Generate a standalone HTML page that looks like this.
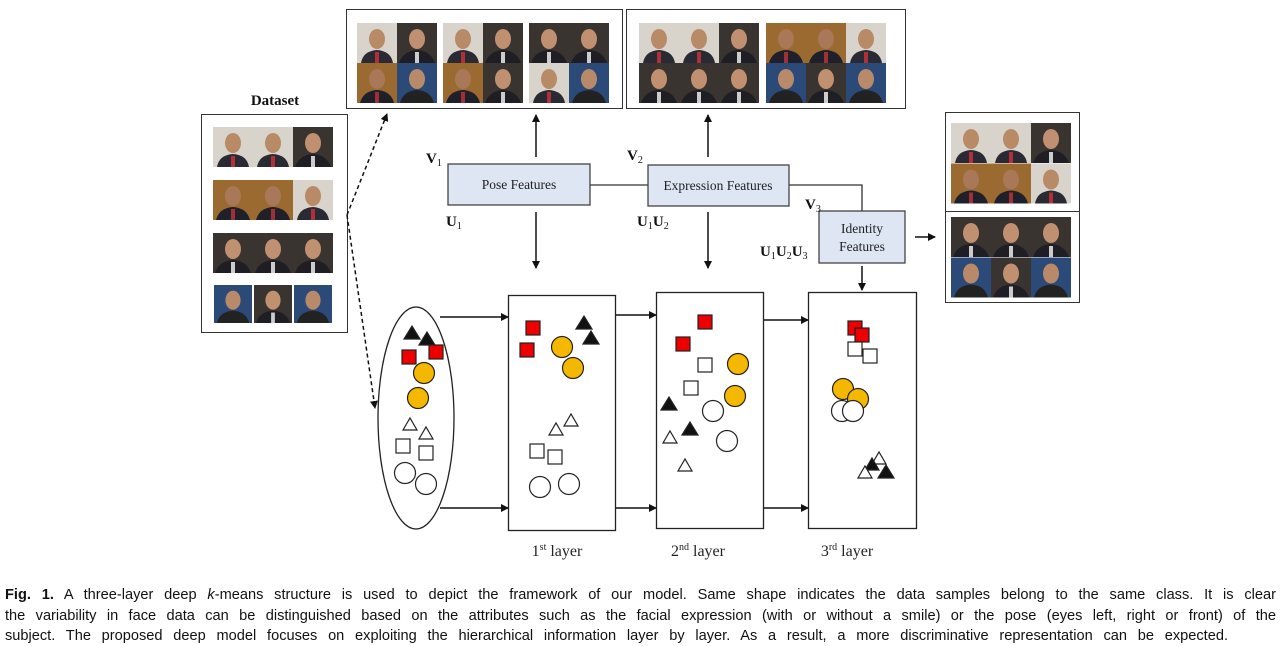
<!DOCTYPE html>
<html><head><meta charset="utf-8"><style>
html,body{margin:0;padding:0;background:#fff;}
body{width:1281px;height:645px;position:relative;overflow:hidden;}
svg{position:absolute;left:0;top:0;}
.cap{position:absolute;left:5px;width:1271px;font-family:"Liberation Sans",sans-serif;font-size:14.6px;line-height:20px;color:#111;text-align:justify;text-align-last:justify;white-space:nowrap;}
</style></head><body>
<svg width="1281" height="645" viewBox="0 0 1281 645" font-family="Liberation Serif, serif">
<defs>
<marker id="ah" markerWidth="8" markerHeight="8" refX="7" refY="4" orient="auto" markerUnits="userSpaceOnUse"><path d="M0,0 L8,4 L0,8 z" fill="#111"/></marker>
<symbol id="pa" viewBox="0 0 40 40"><rect width="40" height="40" fill="#d8d4cc"/><ellipse cx="20" cy="16" rx="8" ry="10" fill="#b88a66"/><path d="M4,40 Q6,28 20,27 Q34,28 36,40z" fill="#2a2a35"/><rect x="18" y="29" width="4" height="11" fill="#b0303a"/></symbol>
<symbol id="pb" viewBox="0 0 40 40"><rect width="40" height="40" fill="#3a3430"/><ellipse cx="20" cy="16" rx="8" ry="10" fill="#c09070"/><path d="M2,40 Q6,28 20,27 Q34,28 38,40z" fill="#1e1e24"/><rect x="18" y="29" width="4" height="11" fill="#ccc"/></symbol>
<symbol id="pc" viewBox="0 0 40 40"><rect width="40" height="40" fill="#9a6a30"/><ellipse cx="20" cy="16" rx="8" ry="10" fill="#a87858"/><path d="M3,40 Q6,28 20,27 Q34,28 37,40z" fill="#20202a"/><rect x="18" y="29" width="4" height="11" fill="#a03038"/></symbol>
<symbol id="pd" viewBox="0 0 40 40"><rect width="40" height="40" fill="#2c4a78"/><ellipse cx="20" cy="16" rx="8" ry="10" fill="#b88a6a"/><path d="M3,40 Q6,28 20,27 Q34,28 37,40z" fill="#222"/></symbol>
</defs>

<rect x="346.5" y="9.5" width="276" height="99" fill="#fff" stroke="#333"/>
<g>
<use href="#pa" x="357" y="23" width="40" height="40"/><use href="#pb" x="397" y="23" width="40" height="40"/>
<use href="#pa" x="443" y="23" width="40" height="40"/><use href="#pb" x="483" y="23" width="40" height="40"/>
<use href="#pb" x="529" y="23" width="40" height="40"/><use href="#pb" x="569" y="23" width="40" height="40"/>
<use href="#pc" x="357" y="63" width="40" height="40"/><use href="#pd" x="397" y="63" width="40" height="40"/>
<use href="#pc" x="443" y="63" width="40" height="40"/><use href="#pb" x="483" y="63" width="40" height="40"/>
<use href="#pa" x="529" y="63" width="40" height="40"/><use href="#pd" x="569" y="63" width="40" height="40"/>
</g>
<rect x="626.5" y="9.5" width="279" height="99" fill="#fff" stroke="#333"/>
<g>
<use href="#pa" x="639" y="23" width="40" height="40"/><use href="#pa" x="679" y="23" width="40" height="40"/><use href="#pb" x="719" y="23" width="40" height="40"/>
<use href="#pc" x="766" y="23" width="40" height="40"/><use href="#pc" x="806" y="23" width="40" height="40"/><use href="#pa" x="846" y="23" width="40" height="40"/>
<use href="#pb" x="639" y="63" width="40" height="40"/><use href="#pb" x="679" y="63" width="40" height="40"/><use href="#pb" x="719" y="63" width="40" height="40"/>
<use href="#pd" x="766" y="63" width="40" height="40"/><use href="#pb" x="806" y="63" width="40" height="40"/><use href="#pd" x="846" y="63" width="40" height="40"/>
</g>
<text x="275" y="105" font-size="15" font-weight="bold" text-anchor="middle" fill="#111">Dataset</text>
<rect x="201.5" y="114.5" width="146" height="218" fill="#fff" stroke="#333"/>
<g>
<use href="#pa" x="213" y="127" width="40" height="40"/><use href="#pa" x="253" y="127" width="40" height="40"/><use href="#pb" x="293" y="127" width="40" height="40"/>
<use href="#pc" x="213" y="180" width="40" height="40"/><use href="#pc" x="253" y="180" width="40" height="40"/><use href="#pa" x="293" y="180" width="40" height="40"/>
<use href="#pb" x="213" y="233" width="40" height="40"/><use href="#pb" x="253" y="233" width="40" height="40"/><use href="#pb" x="293" y="233" width="40" height="40"/>
<use href="#pd" x="213" y="285" width="40" height="38"/><use href="#pb" x="253" y="285" width="40" height="38"/><use href="#pd" x="293" y="285" width="40" height="38"/>
</g>
<rect x="945.5" y="112.5" width="134" height="190" fill="#fff" stroke="#333"/>
<line x1="946" y1="211.5" x2="1079" y2="211.5" stroke="#333"/>
<g>
<use href="#pa" x="951" y="123" width="40" height="40"/><use href="#pa" x="991" y="123" width="40" height="40"/><use href="#pb" x="1031" y="123" width="40" height="40"/>
<use href="#pc" x="951" y="163" width="40" height="41"/><use href="#pc" x="991" y="163" width="40" height="41"/><use href="#pa" x="1031" y="163" width="40" height="41"/>
<use href="#pb" x="951" y="217" width="40" height="40"/><use href="#pb" x="991" y="217" width="40" height="40"/><use href="#pb" x="1031" y="217" width="40" height="40"/>
<use href="#pd" x="951" y="257" width="40" height="41"/><use href="#pb" x="991" y="257" width="40" height="41"/><use href="#pd" x="1031" y="257" width="40" height="41"/>
</g>

<g stroke="#111" stroke-width="1.5" stroke-dasharray="4,3" fill="none">
<line x1="347" y1="215" x2="387" y2="114" marker-end="url(#ah)"/>
<line x1="347" y1="215" x2="375" y2="408" marker-end="url(#ah)"/>
</g>

<g stroke="#333" stroke-width="1.3" fill="none">
<line x1="590" y1="185" x2="648" y2="185"/>
<polyline points="789,185 862,185 862,211"/>
</g>
<rect x="448" y="164" width="142" height="41" fill="#dde6f2" stroke="#444" stroke-width="1.3"/>
<rect x="648" y="165" width="141" height="41" fill="#dde6f2" stroke="#444" stroke-width="1.3"/>
<rect x="819" y="211" width="86" height="52" fill="#dde6f2" stroke="#444" stroke-width="1.3"/>
<g font-size="13.5" fill="#222" text-anchor="middle">
<text x="519" y="189">Pose Features</text>
<text x="718" y="190">Expression Features</text>
<text x="862" y="233">Identity</text>
<text x="862" y="251">Features</text>
</g>
<g font-size="15" font-weight="bold" fill="#111">
<text x="426" y="163">V<tspan font-size="10" font-weight="normal" dy="3">1</tspan></text>
<text x="446" y="226">U<tspan font-size="10" font-weight="normal" dy="3">1</tspan></text>
<text x="627" y="160">V<tspan font-size="10" font-weight="normal" dy="3">2</tspan></text>
<text x="637" y="226">U<tspan font-size="10" font-weight="normal" dy="3">1</tspan><tspan dy="-3">U</tspan><tspan font-size="10" font-weight="normal" dy="3">2</tspan></text>
<text x="805" y="209">V<tspan font-size="10" font-weight="normal" dy="3">3</tspan></text>
<text x="760" y="256">U<tspan font-size="10" font-weight="normal" dy="3">1</tspan><tspan dy="-3">U</tspan><tspan font-size="10" font-weight="normal" dy="3">2</tspan><tspan dy="-3">U</tspan><tspan font-size="10" font-weight="normal" dy="3">3</tspan></text>
</g>
<g stroke="#111" stroke-width="1.5" fill="none" marker-end="url(#ah)">
<line x1="536" y1="157" x2="536" y2="115"/>
<line x1="708" y1="157" x2="708" y2="115"/>
<line x1="536" y1="212" x2="536" y2="268"/>
<line x1="708" y1="212" x2="708" y2="268"/>
<line x1="862" y1="266" x2="862" y2="290"/>
<line x1="915" y1="237" x2="935" y2="237"/>
<line x1="440" y1="317" x2="508" y2="317"/>
<line x1="440" y1="508" x2="508" y2="508"/>
<line x1="615" y1="315" x2="656" y2="315"/>
<line x1="615" y1="508" x2="656" y2="508"/>
<line x1="763" y1="320" x2="808" y2="320"/>
<line x1="763" y1="508" x2="808" y2="508"/>
</g>

<ellipse cx="416" cy="418" rx="38" ry="111" fill="#fff" stroke="#222" stroke-width="1.3"/>
<rect x="508.5" y="295.5" width="107" height="235" fill="#fff" stroke="#222" stroke-width="1.3"/>
<rect x="656.5" y="292.5" width="107" height="236" fill="#fff" stroke="#222" stroke-width="1.3"/>
<rect x="808.5" y="292.5" width="108" height="236" fill="#fff" stroke="#222" stroke-width="1.3"/>

<g stroke="#222" stroke-width="1.2">
<path d="M404,339 l8,-13 l8,13z" fill="#111"/><path d="M419,345 l8,-13 l8,13z" fill="#111"/>
<rect x="402" y="350" width="14" height="14" fill="#e00"/><rect x="429" y="345" width="14" height="14" fill="#e00"/>
<circle cx="424" cy="373" r="10.5" fill="#f5b800"/><circle cx="418" cy="398" r="10.5" fill="#f5b800"/>
<path d="M403,430 l7,-12 l7,12z" fill="#fff"/><path d="M419,439 l7,-12 l7,12z" fill="#fff"/>
<rect x="396" y="439" width="14" height="14" fill="#fff"/><rect x="419" y="446" width="14" height="14" fill="#fff"/>
<circle cx="405" cy="473" r="10.5" fill="#fff"/><circle cx="426" cy="484" r="10.5" fill="#fff"/>
<rect x="526" y="321" width="14" height="14" fill="#e00"/><rect x="520" y="343" width="14" height="14" fill="#e00"/>
<path d="M576,329 l8,-13 l8,13z" fill="#111"/><path d="M583,344 l8,-13 l8,13z" fill="#111"/>
<circle cx="562" cy="347" r="10.5" fill="#f5b800"/><circle cx="573" cy="368" r="10.5" fill="#f5b800"/>
<path d="M564,426 l7,-12 l7,12z" fill="#fff"/><path d="M549,435 l7,-12 l7,12z" fill="#fff"/>
<rect x="530" y="444" width="14" height="14" fill="#fff"/><rect x="548" y="450" width="14" height="14" fill="#fff"/>
<circle cx="540" cy="487" r="10.5" fill="#fff"/><circle cx="569" cy="484" r="10.5" fill="#fff"/>
<rect x="698" y="315" width="14" height="14" fill="#e00"/><rect x="676" y="337" width="14" height="14" fill="#e00"/>
<rect x="698" y="358" width="14" height="14" fill="#fff"/><rect x="684" y="381" width="14" height="14" fill="#fff"/>
<circle cx="738" cy="364" r="10.5" fill="#f5b800"/><circle cx="735" cy="396" r="10.5" fill="#f5b800"/>
<path d="M661,410 l8,-13 l8,13z" fill="#111"/><path d="M682,435 l8,-13 l8,13z" fill="#111"/>
<path d="M663,443 l7,-12 l7,12z" fill="#fff"/><path d="M678,471 l7,-12 l7,12z" fill="#fff"/>
<circle cx="713" cy="411" r="10.5" fill="#fff"/><circle cx="727" cy="441" r="10.5" fill="#fff"/>
<rect x="848" y="321" width="14" height="14" fill="#e00"/><rect x="855" y="328" width="14" height="14" fill="#e00"/>
<rect x="848" y="342" width="14" height="14" fill="#fff"/><rect x="863" y="349" width="14" height="14" fill="#fff"/>
<circle cx="843" cy="389" r="10.5" fill="#f5b800"/><circle cx="858" cy="399" r="10.5" fill="#f5b800"/>
<circle cx="842" cy="411" r="10.5" fill="#fff"/><circle cx="853" cy="411" r="10.5" fill="#fff"/>
<path d="M872,464 l7,-12 l7,12z" fill="#fff"/><path d="M865,470 l7,-12 l7,12z" fill="#111"/>
<path d="M858,478 l7,-12 l7,12z" fill="#fff"/><path d="M878,478 l8,-13 l8,13z" fill="#111"/>
</g>

<g font-size="16" fill="#222" text-anchor="middle">
<text x="557" y="556">1<tspan font-size="10" dy="-6">st</tspan><tspan dy="6"> layer</tspan></text>
<text x="698" y="556">2<tspan font-size="10" dy="-6">nd</tspan><tspan dy="6"> layer</tspan></text>
<text x="847" y="556">3<tspan font-size="10" dy="-6">rd</tspan><tspan dy="6"> layer</tspan></text>
</g>
</svg>
<div class="cap" style="top:585px"><b>Fig. 1.</b> A three-layer deep <i>k</i>-means structure is used to depict the framework of our model. Same shape indicates the data samples belong to the same class. It is clear</div>
<div class="cap" style="top:606px">the variability in face data can be distinguished based on the attributes such as the facial expression (with or without a smile) or the pose (eyes left, right or front) of the</div>
<div class="cap" style="top:626px;width:1223px">subject. The proposed deep model focuses on exploiting the hierarchical information layer by layer. As a result, a more discriminative representation can be expected.</div>
</body></html>
